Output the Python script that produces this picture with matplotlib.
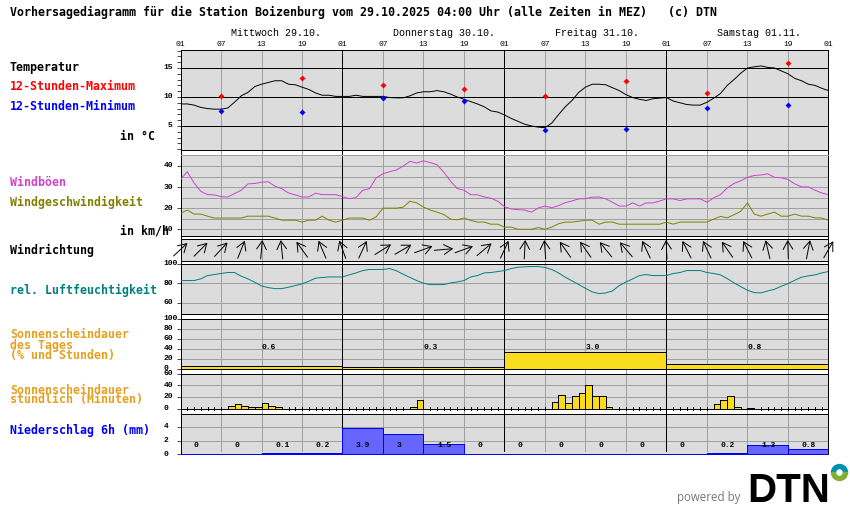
import math
import matplotlib
matplotlib.use('Agg')
import matplotlib.pyplot as plt
from matplotlib.patches import Wedge

# pixel look like the original gif
plt.rcParams['text.antialiased'] = False
plt.rcParams['lines.antialiased'] = False
plt.rcParams['patch.antialiased'] = False
plt.rcParams['font.family'] = ['Liberation Mono', 'DejaVu Sans Mono']

W, H = 850, 524
X0, X1 = 180.5, 828.5
LW = 0.5
SMALL = 5.8
CURVE = dict(lw=0.7, antialiased=True, zorder=3)

# Daten
temp = [8.8, 8.8, 8.6, 8.2, 8.0, 7.9, 7.9, 8.1, 9.1, 10.2, 10.8, 11.8, 12.2, 12.5, 12.8, 12.8,
        12.2, 12.1, 11.7, 11.3, 10.7, 10.3, 10.3, 10.1, 10.1, 10.1, 10.3, 10.1, 10.1, 10.1, 10.1, 9.9,
        9.85, 9.85, 10.2, 10.7, 10.9, 10.9, 11.1, 10.9, 10.5, 10.0, 9.6, 9.2, 8.8, 8.3, 7.6, 7.4,
        6.9, 6.3, 5.8, 5.3, 5.0, 4.8, 4.7, 5.5, 6.95, 8.3, 9.4, 10.8, 11.7, 12.2, 12.2, 12.1,
        11.6, 11.1, 10.4, 9.9, 9.6, 9.4, 9.7, 9.8, 9.9, 9.3, 9.0, 8.7, 8.6, 8.6, 9.1, 9.8,
        10.6, 12.0, 13.0, 14.1, 15.0, 15.2, 15.35, 15.1, 15.0, 14.5, 14.0, 13.2, 12.8, 12.2, 12.0, 11.5, 11.1]
ext_hours = [6, 18, 30, 42, 54, 66, 78, 90]
temp_max = [10.1, 13.3, 12.05, 11.4, 10.1, 12.8, 10.7, 15.9]
temp_min = [7.6, 7.4, 9.9, 9.3, 4.3, 4.5, 8.1, 8.6]

gust = [33.6, 37.3, 32, 28, 26.4, 26.3, 25.5, 25.3, 26.9, 28.5, 31.5, 31.7, 32.3, 32.5, 30.4, 29.2,
        27.2, 26.3, 25.3, 25.3, 27.1, 26.4, 26.4, 26.4, 25.5, 24.5, 25, 28.5, 29.2, 34.4, 36.3, 37.3,
        38.1, 40, 42.2, 41.4, 42.4, 41.6, 40.6, 37.1, 32.8, 29.3, 28.5, 26.4, 26.3, 25.3, 24.7, 23.3,
        20.7, 19.6, 19.3, 19.1, 18.1, 20.1, 21, 20.2, 21.2, 22.6, 23.4, 24.4, 24.5, 25.2, 25.3, 24.4,
        22.8, 21, 21, 22.5, 21, 22.5, 22.5, 23.4, 24.4, 24.4, 23.6, 24.4, 24.4, 24.4, 22.8, 24.9,
        26.4, 29.6, 31.7, 33, 34.6, 35.5, 35.7, 36.3, 34.6, 34.4, 33.6, 31.5, 30.1, 30.1, 28.5, 27.2, 26.4]
wind = [17.5, 19.1, 17.2, 17.2, 16.2, 15.3, 15.3, 15.3, 15.3, 15.3, 16.2, 16.2, 16.2, 16.2, 15.3, 14.3,
        14.3, 14.3, 13.4, 14.3, 14.3, 16.2, 14.3, 13.4, 14.3, 15.3, 15.3, 15.3, 14.3, 15.9, 20, 20,
        20, 20.5, 23.3, 22.5, 20.5, 19.1, 18.1, 17, 14.8, 14.5, 15.3, 14.2, 13.4, 13.4, 12.4, 12.4,
        11, 11, 10, 10, 10, 10.8, 10, 11, 12.6, 13.4, 13.4, 13.8, 14.3, 14.3, 12.4, 13.4,
        13.4, 12.4, 12.4, 12.4, 12.4, 12.4, 12.4, 12.4, 13.4, 12.4, 13.4, 13.4, 13.4, 13.4, 13.4, 14.8,
        16.1, 15.4, 16.9, 18.5, 22.5, 17.2, 16.2, 17.2, 18.1, 16.2, 16.2, 17.2, 16.2, 16.2, 15.4, 15.3, 14.3]

dir_hours = list(range(0, 97, 3))
wind_dir = [47, 45, 43, 22, 5, -6, -36, -23, -20, 25, 58, 60, 70, 85, 70, 50, 25,
            3, -4, -35, -35, -39, -41, -25, -3, -27, -25, -35, -27, -13, -2, 11, 30]

humidity = [82.6, 82.6, 82.6, 84.3, 87.7, 88.7, 89.8, 90.8, 90.8, 87, 84.3, 80.9, 77.1, 75.4, 74.4, 74.4,
            75.8, 77.5, 79.2, 81.9, 85, 85.7, 86.3, 86.3, 86.3, 88.4, 90.4, 92.8, 93.9, 93.9, 93.9, 94.9,
            92.5, 89, 85.7, 82.6, 79.9, 78.5, 78.5, 78.5, 80.2, 81.2, 82.6, 86.3, 87.7, 90.4, 90.8, 91.8,
            92.8, 94.9, 96.2, 96.6, 96.9, 96.9, 95.9, 93.9, 90.4, 86, 82.3, 78.5, 74.7, 71, 69.3, 70,
            72, 77.5, 81.2, 84.3, 87.7, 88.7, 87.7, 87.7, 87.7, 89.8, 90.8, 92.8, 92.8, 92.8, 90.8, 89.8,
            88.4, 84.6, 80.2, 76.4, 72.7, 70.3, 70, 72, 73.7, 76.8, 79.5, 82.9, 86, 87.4, 88.4, 90.4, 91.8]

day_start = [0, 24, 48, 72]
day_names = ['Mittwoch 29.10.', 'Donnerstag 30.10.', 'Freitag 31.10.', 'Samstag 01.11.']
sun_day_pct = [6, 4, 33, 9]
sun_day_txt = ['0.6', '0.3', '3.0', '0.8']

sun_hour = [7, 8, 9, 10, 11, 12, 13, 14, 34, 35, 55, 56, 57, 58, 59, 60, 61, 62, 63, 79, 80, 81, 82, 84]
sun_min = [5, 7, 5, 3, 3, 10, 5, 2, 3, 15, 12, 24, 10, 22, 27, 40, 21, 22, 2, 7, 15, 21, 3, 1]

rain_start = list(range(0, 96, 6))
rain = [0, 0, 0.1, 0.2, 3.9, 3, 1.5, 0, 0, 0, 0, 0, 0, 0.2, 1.3, 0.8]
rain_txt = ['0', '0', '0.1', '0.2', '3.9', '3', '1.5', '0', '0', '0', '0', '0', '0', '0.2', '1.3', '0.8']

hour_ticks = list(range(0, 97, 6))
hour_labels = ['01', '07', '13', '19'] * 4 + ['01']

hours = list(range(97))
GREY = '#a0a0a0'
BG = '#dcdcdc'
YELLOW = '#fadc1e'

fig = plt.figure(figsize=(W / 100, H / 100), dpi=100)


def make_axes(top, bottom, zorder=1):
    return fig.add_axes([X0 / W, 1 - bottom / H, (X1 - X0) / W, (bottom - top) / H], zorder=zorder)


def vgrid(ax, ymin=None):
    lo, hi = ax.get_ylim()
    if ymin is not None:
        lo = ymin
    for h in hour_ticks[1:-1]:
        c = 'black' if h % 24 == 0 else GREY
        ax.plot([h, h], [lo, hi], color=c, lw=LW, zorder=1)


def panel(top, bottom, ylim, grid=(), ticks=(), top_color='black', bottom_color='black'):
    ax = make_axes(top, bottom)
    ax.set_facecolor(BG)
    ax.set_xlim(0, 96)
    ax.set_ylim(*ylim)
    ax.set_xticks([])
    ax.set_yticks(list(ticks))
    ax.tick_params(axis='y', length=3, width=LW, labelleft=False)
    for s in ax.spines.values():
        s.set_linewidth(LW)
    ax.spines['top'].set_color(top_color)
    ax.spines['bottom'].set_color(bottom_color)
    for v in grid:
        ax.axhline(v, color=GREY, lw=LW, zorder=1)
    return ax


def ylabels(ax, values, ha='left', x_px=-17):
    trans = ax.get_yaxis_transform()
    for v in values:
        ax.text(x_px / (X1 - X0), v, str(v), transform=trans, ha=ha, va='center',
                fontsize=SMALL, fontweight='bold', antialiased=True, color='black', clip_on=False)


# Hintergrund mit den Linien durch alle Luecken
base = make_axes(50, 454, zorder=0)
base.set_xlim(0, 96)
base.set_ylim(0, 1)
base.set_xticks([])
base.set_yticks([])
for s in ['top', 'bottom']:
    base.spines[s].set_visible(False)
for s in ['left', 'right']:
    base.spines[s].set_linewidth(LW)
vgrid(base)

# Temperatur
ax = panel(50, 150, (0.86, 18.1), ticks=range(1, 19))
vgrid(ax)
for v in [5, 10, 15]:
    ax.axhline(v, color='black', lw=LW, zorder=1.5)
ax.plot(hours, temp, color='black', **CURVE)
ax.plot(ext_hours, temp_max, ls='', marker='D', ms=3, mew=0, color='#ff0000', zorder=4)
ax.plot(ext_hours, temp_min, ls='', marker='D', ms=3, mew=0, color='#0000ff', zorder=4)
ylabels(ax, [15, 10, 5], ha='right', x_px=-8)
for h, s in zip(hour_ticks, hour_labels):
    ax.text(h, 1.05, s, transform=ax.get_xaxis_transform(), ha='center', va='center', fontsize=SMALL,
            antialiased=True)
for h, s in zip(day_start, day_names):
    ax.text(h + 7.5, 1.17, s, transform=ax.get_xaxis_transform(), ha='left', va='center', fontsize=7.2,
            antialiased=True)

# Wind
ax = panel(155, 236, (6.8, 45.2), grid=range(10, 46, 5), ticks=[10, 20, 30, 40], top_color=GREY)
vgrid(ax)
ax.plot(hours, gust, color='#cc44cc', **CURVE)
ax.plot(hours, wind, color='#808000', **CURVE)
ylabels(ax, [40, 30, 20, 10])

# Windrichtung
ax = panel(238.5, 260.5, (-11, 11))
vgrid(ax)
ARROW = 19
for h, d in zip(dir_hours, wind_dir):
    dx = math.sin(math.radians(d)) * ARROW / 2
    dy = math.cos(math.radians(d)) * ARROW / 2
    ax.annotate('', xy=(h + dx / 6.75, dy), xytext=(h - dx / 6.75, -dy), zorder=3,
                annotation_clip=False,
                arrowprops=dict(arrowstyle='->,head_length=0.6,head_width=0.35', color='black', lw=0.7,
                                shrinkA=0, shrinkB=0, mutation_scale=10, antialiased=True))

# Luftfeuchtigkeit
ax = panel(263.5, 313.5, (49, 100), grid=[60, 80], ticks=[60, 80, 100])
vgrid(ax)
ax.plot(hours, humidity, color='#008080', **CURVE)
ylabels(ax, [100, 80, 60])

# Sonnenschein Tag
ax = panel(318.5, 368.5, (0, 100), grid=[20, 40, 60, 80], ticks=[0, 20, 40, 60, 80, 100])
vgrid(ax)
ax.bar(day_start, sun_day_pct, width=24, align='edge', color=YELLOW, edgecolor='black', lw=LW, zorder=3)
for h, s in zip(day_start, sun_day_txt):
    ax.text(h + 12, 42, s, ha='left', va='center', fontsize=SMALL, fontweight='bold', antialiased=True, zorder=4)
ylabels(ax, [100, 80, 60, 40, 20, 0])

# Sonnenschein stuendlich
ax = panel(373.5, 408.5, (0, 60), grid=[20, 40], ticks=[0, 20, 40, 60])
vgrid(ax)
ax.bar(sun_hour, sun_min, width=1, align='edge', color=YELLOW, edgecolor='black', lw=LW, zorder=3)
# kleine Striche bei den Stunden ohne Sonne
tick_hours = [t for t in range(1, 96) if t % 24 and t not in sun_hour and t - 1 not in sun_hour]
ax.vlines(tick_hours, -2.5, 2.5, color='black', lw=LW, clip_on=False, zorder=4)
ylabels(ax, [60, 40, 20, 0])

# Niederschlag
ax = panel(413.5, 454, (0, 6), grid=[2, 4], ticks=[0, 2, 4], bottom_color='#0000ff')
vgrid(ax, ymin=0.45)
ax.bar(rain_start, rain, width=6, align='edge', color='#6666ff', edgecolor='#0000ff', lw=LW, zorder=3)
for h, s in zip(rain_start, rain_txt):
    ax.text(h + 2, 1.3, s, ha='left', va='center', fontsize=SMALL, fontweight='bold', antialiased=True, zorder=4)
ylabels(ax, [4, 2, 0])

# Texte links, Koordinaten in Pixeln
page = fig.add_axes([0, 0, 1, 1], zorder=5)
page.set_xlim(0, W)
page.set_ylim(H, 0)
page.axis('off')


def label(x, y, s, color='black', **kw):
    page.text(x, y, s, color=color, ha='left', va='center', fontsize=8.37,
              family='DejaVu Sans Mono', fontweight='bold', antialiased=True, **kw)


ORANGE = '#e6a020'
label(10, 12, 'Vorhersagediagramm für die Station Boizenburg vom 29.10.2025 04:00 Uhr (alle Zeiten in MEZ)   (c) DTN')
label(10, 67, 'Temperatur')
label(10, 87, '12-Stunden-Maximum', '#ff0000')
label(10, 107, '12-Stunden-Minimum', '#0000ff')
label(120, 137, 'in °C')
label(10, 182, 'Windböen', '#cc44cc')
label(10, 202, 'Windgeschwindigkeit', '#808000')
label(120, 231, 'in km/h')
label(10, 250, 'Windrichtung')
label(10, 290, 'rel. Luftfeuchtigkeit', '#008080')
label(10, 335, 'Sonnenscheindauer', ORANGE)
label(10, 345, 'des Tages', ORANGE)
label(10, 355, '(% und Stunden)', ORANGE)
label(10, 390, 'Sonnenscheindauer', ORANGE)
label(10, 400, 'stündlich (Minuten)', ORANGE)
label(10, 430, 'Niederschlag 6h (mm)', '#0000ff')

# Logo
page.text(677, 497, 'powered by', color='#777777', ha='left', va='center', fontsize=8.3,
          family='Open Sans', antialiased=True)
page.text(747, 502, 'DTN', color='black', ha='left', va='baseline', fontsize=29,
          family='Liberation Sans', fontweight='bold', antialiased=True)
page.add_patch(Wedge((839.5, 472.5), 8, 180, 360, width=4, color='#0090b0', antialiased=True))
page.add_patch(Wedge((839.5, 472.5), 8, 0, 180, width=4, color='#80b030', antialiased=True))

fig.savefig('out.png', dpi=100)
